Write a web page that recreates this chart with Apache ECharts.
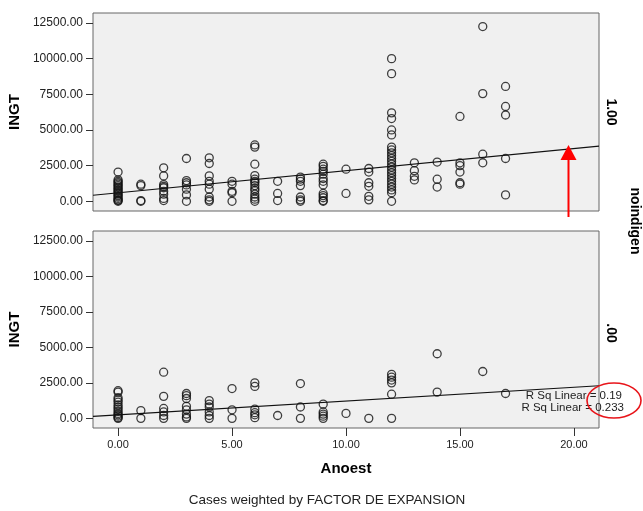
<!DOCTYPE html>
<html>
<head>
<meta charset="utf-8">
<script src="https://cdn.jsdelivr.net/npm/echarts@6/dist/echarts.min.js"></script>
<style>
  html, body { margin: 0; padding: 0; background: #fff; }
  #chart { width: 643px; height: 511px; }
</style>
</head>
<body>
<div id="chart"></div>
<script>
// Anoest values (x) and INGT values
const years = [0, 1, 2, 3, 4, 5, 6, 7, 8, 9, 10, 11, 12, 13, 14, 15, 16, 17]

// noindigen = 1.00 (top panel)
const ingtTop = [
  [2050, 1500, 1400, 1300, 1200, 1100, 1000, 900, 800, 700, 600, 500, 400, 300, 200, 100, 50, 0],
  [1200, 1100, 50, 0],
  [2350, 1780, 1175, 1050, 950, 700, 500, 200, 50],
  [3000, 1450, 1300, 1150, 850, 450, 0],
  [3050, 2650, 1780, 1400, 1200, 850, 300, 100, 0],
  [1400, 1200, 700, 600, 0],
  [3950, 3800, 2600, 1800, 1550, 1400, 1300, 1100, 900, 750, 500, 300, 150, 0],
  [1400, 550, 50],
  [1700, 1550, 1400, 1100, 300, 100, 0],
  [2600, 2450, 2250, 2100, 1900, 1600, 1400, 1150, 550, 400, 250, 50, 0],
  [2250, 550],
  [2300, 2050, 1300, 1050, 350, 100],
  [10000, 8950, 6200, 5800, 5000, 4650, 3800, 3600, 3400, 3200, 3000, 2800, 2600, 2400, 2200, 2000, 1800, 1600, 1400, 1200, 1000, 800, 600, 0],
  [2700, 2150, 1750, 1500],
  [2750, 1550, 1000],
  [5950, 2700, 2500, 2050, 1300, 1200],
  [12250, 7550, 3300, 2700],
  [8050, 6650, 6050, 3000, 450]
]

// noindigen = .00 (bottom panel)
const ingtBottom = [
  [1950, 1850, 1450, 1300, 1150, 950, 800, 650, 500, 350, 250, 150, 50, 0],
  [550, 0],
  [3250, 1550, 700, 450, 200, 0],
  [1750, 1600, 1400, 850, 600, 300, 100, 0],
  [1250, 1000, 800, 450, 200, 0],
  [2100, 600, 0],
  [2500, 2250, 650, 400, 250, 50],
  [200],
  [2450, 800, 0],
  [1000, 450, 300, 150, 0],
  [350],
  [0],
  [3100, 2900, 2700, 2500, 1700, 0],
  [],
  [4550, 1850],
  [],
  [3300],
  [1750]
]

// linear fit lines, endpoints at the panel edges
const fitX = [-1.1, 21.1]
const fitTop = [423, 3873]
const fitBottom = [140, 2296]

const xTicks = [0, 5, 10, 15, 20]
const yTicks = [0, 2500, 5000, 7500, 10000, 12500]
const rsqLabels = ['R Sq Linear = 0.19', 'R Sq Linear = 0.233']

const toPoints = cols => {
  const pts = []
  cols.forEach((vals, i) => vals.forEach(v => pts.push([years[i], v])))
  return pts
}

const font = 'Liberation Sans, Arial, sans-serif'

const makeY = (idx) => ({
  type: 'value',
  gridIndex: idx,
  min: -680,
  max: 13200,
  name: 'INGT',
  nameLocation: 'middle',
  nameRotate: 90,
  nameGap: 64,
  nameTextStyle: { fontFamily: font, fontSize: 15, fontWeight: 'bold', color: '#000' },
  splitLine: { show: false },
  axisLine: { show: false, onZero: false },
  axisTick: { show: true, length: 7, customValues: yTicks, lineStyle: { color: '#333' } },
  axisLabel: {
    customValues: yTicks,
    margin: 10,
    fontFamily: font,
    fontSize: 12,
    color: '#222',
    formatter: v => v.toFixed(2)
  }
})

const makeX = (idx, showLabels) => ({
  type: 'value',
  gridIndex: idx,
  min: -1.1,
  max: 21.1,
  name: showLabels ? 'Anoest' : '',
  nameLocation: 'middle',
  nameGap: 33,
  nameTextStyle: { fontFamily: font, fontSize: 15, fontWeight: 'bold', color: '#000' },
  splitLine: { show: false },
  axisLine: { show: false, onZero: false },
  axisTick: { show: showLabels, length: 8, customValues: xTicks, lineStyle: { color: '#333' } },
  axisLabel: {
    show: showLabels,
    customValues: xTicks,
    margin: 11,
    fontFamily: font,
    fontSize: 11,
    color: '#222',
    formatter: v => v.toFixed(2)
  }
})

const scatterStyle = {
  color: 'transparent',
  borderColor: '#111',
  borderWidth: 1.3
}

const chart = echarts.init(document.getElementById('chart'))

chart.setOption({
  animation: false,
  backgroundColor: '#fff',
  grid: [
    { left: 93, top: 13, width: 506, height: 198, outerBoundsMode: 'none', show: true, backgroundColor: '#f0f0f0', borderColor: '#666', borderWidth: 1 },
    { left: 93, top: 231, width: 506, height: 197, outerBoundsMode: 'none', show: true, backgroundColor: '#f0f0f0', borderColor: '#666', borderWidth: 1 }
  ],
  xAxis: [makeX(0, false), makeX(1, true)],
  yAxis: [makeY(0), makeY(1)],
  series: [
    {
      type: 'scatter', xAxisIndex: 0, yAxisIndex: 0,
      symbol: 'circle', symbolSize: 8,
      itemStyle: scatterStyle,
      data: toPoints(ingtTop)
    },
    {
      type: 'scatter', xAxisIndex: 1, yAxisIndex: 1,
      symbol: 'circle', symbolSize: 8,
      itemStyle: scatterStyle,
      data: toPoints(ingtBottom)
    },
    {
      type: 'line', xAxisIndex: 0, yAxisIndex: 0,
      symbol: 'none', lineStyle: { color: '#111', width: 1.2 },
      data: fitX.map((x, i) => [x, fitTop[i]])
    },
    {
      type: 'line', xAxisIndex: 1, yAxisIndex: 1,
      symbol: 'none', lineStyle: { color: '#111', width: 1.2 },
      data: fitX.map((x, i) => [x, fitBottom[i]])
    }
  ],
  graphic: [
    // panel labels on the right
    { type: 'text', x: 611, y: 112, rotation: -Math.PI / 2,
      style: { text: '1.00', font: 'bold 14px ' + font, fill: '#000', align: 'center', verticalAlign: 'middle' } },
    { type: 'text', x: 611, y: 333, rotation: -Math.PI / 2,
      style: { text: '.00', font: 'bold 14px ' + font, fill: '#000', align: 'center', verticalAlign: 'middle' } },
    { type: 'text', x: 635, y: 221, rotation: -Math.PI / 2,
      style: { text: 'noindigen', font: 'bold 14px ' + font, fill: '#000', align: 'center', verticalAlign: 'middle' } },
    // R sq labels
    { type: 'text', x: 622, y: 396, z: 20,
      style: { text: rsqLabels[0], font: '11.5px ' + font, fill: '#222', align: 'right', verticalAlign: 'middle' } },
    { type: 'text', x: 624, y: 408, z: 20,
      style: { text: rsqLabels[1], font: '11.5px ' + font, fill: '#222', align: 'right', verticalAlign: 'middle' } },
    // red annotations
    { type: 'ellipse', z: 30, shape: { cx: 614, cy: 400.5, rx: 27, ry: 17.5 },
      style: { fill: 'none', stroke: '#e8141a', lineWidth: 1.6 } },
    { type: 'line', z: 30, shape: { x1: 568.5, y1: 217, x2: 568.5, y2: 158 },
      style: { stroke: '#ff0000', lineWidth: 2 } },
    { type: 'polygon', z: 30, shape: { points: [[568.5, 145], [576.5, 160], [560.5, 160]] },
      style: { fill: '#ff0000' } },
    // footnote
    { type: 'text', x: 327, y: 500,
      style: { text: 'Cases weighted by FACTOR DE EXPANSION', font: '13.5px ' + font, fill: '#222', align: 'center', verticalAlign: 'middle' } }
  ]
})
</script>
</body>
</html>
